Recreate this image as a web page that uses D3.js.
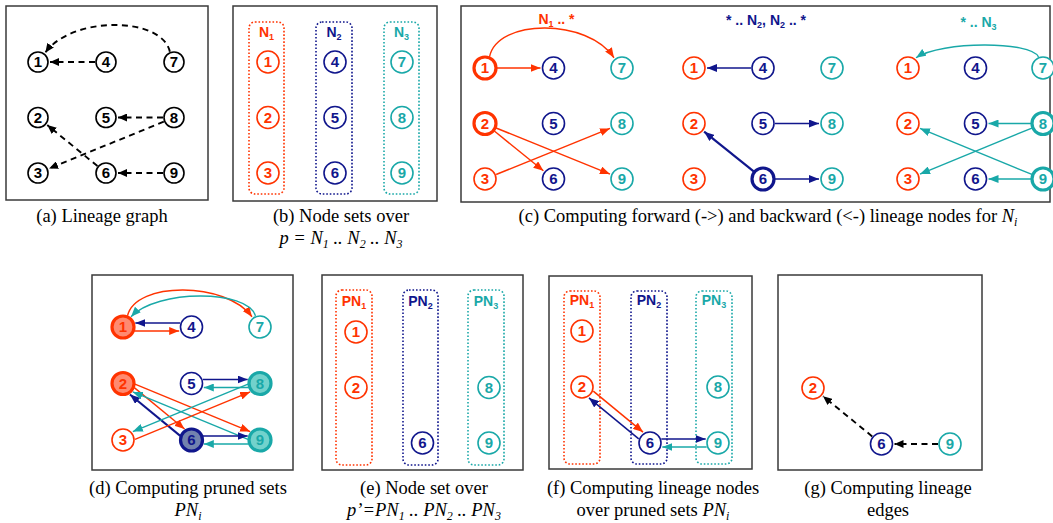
<!DOCTYPE html>
<html><head><meta charset="utf-8">
<script src="https://cdn.jsdelivr.net/npm/d3@7"></script>
<style>body{margin:0;background:#fff} svg{display:block}</style>
</head><body>
<script>
// ---------- data ----------
const nodeIds  = [1,2,3,4,5,6,7,8,9];
const nodeSet  = [0,0,0,1,1,1,2,2,2];   // which N_i each node belongs to
const nodeRow  = [0,1,2,0,1,2,0,1,2];
const setColors = ["#ff3300","#10168c","#19a8a8"];
const setFills  = ["#ff8a70","#7282ae","#72d2cc"];

// (a) lineage graph
const edgesA = [{s:4,t:1},{s:7,t:1,arc:37},{s:8,t:5},{s:8,t:3},{s:6,t:2},{s:9,t:6}];
// (c) forward/backward computations
const edgesC = [
  [{s:1,t:4},{s:1,t:7,arc:40},{s:2,t:6},{s:2,t:9},{s:3,t:8}],
  [{s:4,t:1},{s:6,t:2,w:2.2},{s:5,t:8},{s:6,t:9}],
  [{s:7,t:1,arc:23},{s:8,t:5},{s:8,t:3},{s:9,t:2},{s:9,t:6}]
];
const focusC = [[1,2],[6],[8,9]];
const labelsC = [
  [{t:"N"},{t:"1",sub:1},{t:" .. *"}],
  [{t:"* .. N"},{t:"2",sub:1},{t:", N"},{t:"2",sub:1},{t:" .. *"}],
  [{t:"* .. N"},{t:"3",sub:1}]
];
// (d) pruned sets
const edgesD = [
  {s:1,t:7,g:0,arc:37},{s:7,t:1,g:2,arc:31},
  {s:1,t:4,g:0,lane:1},{s:4,t:1,g:1,lane:-1},
  {s:2,t:6,g:0,lane:-1},{s:6,t:2,g:1,lane:1,w:2},
  {s:2,t:9,g:0,lane:-1},{s:9,t:2,g:2,lane:1},
  {s:3,t:8,g:0,lane:1},{s:8,t:3,g:2,lane:-1},
  {s:5,t:8,g:1,lane:-1},{s:8,t:5,g:2,lane:1},
  {s:6,t:9,g:1,lane:-1},{s:9,t:6,g:2,lane:1}
];
const focusD = [1,2,6,8,9];
// (e),(f) pruned node sets
const prunedNodes = [1,2,6,8,9];
const edgesF = [{s:2,t:6,g:0,lane:-1},{s:6,t:2,g:1,lane:1},{s:6,t:9,g:1,lane:-1},{s:9,t:6,g:2,lane:1}];
// (g) lineage edges
const nodesG = [2,6,9];
const edgesG = [{s:6,t:2},{s:9,t:6}];

const captions = {
  a: [[{t:"(a) Lineage graph"}]],
  b: [[{t:"(b) Node sets over"}],
      [{t:"p",it:1},{t:" = ",it:1},{t:"N",it:1},{t:"1",it:1,sub:1},{t:" .. ",it:1},{t:"N",it:1},{t:"2",it:1,sub:1},{t:" .. ",it:1},{t:"N",it:1},{t:"3",it:1,sub:1}]],
  c: [[{t:"(c) Computing forward (->) and backward (<-) lineage nodes for "},{t:"N",it:1},{t:"i",it:1,sub:1}]],
  d: [[{t:"(d) Computing pruned sets"}],[{t:"PN",it:1},{t:"i",it:1,sub:1}]],
  e: [[{t:"(e) Node set over"}],
      [{t:"p",it:1},{t:"’=PN",it:1},{t:"1",it:1,sub:1},{t:" .. PN",it:1},{t:"2",it:1,sub:1},{t:" .. PN",it:1},{t:"3",it:1,sub:1}]],
  f: [[{t:"(f) Computing lineage nodes"}],[{t:"over pruned sets "},{t:"PN",it:1},{t:"i",it:1,sub:1}]],
  g: [[{t:"(g) Computing lineage"}],[{t:"edges"}]]
};

// ---------- drawing ----------
const W = 1053, H = 523;
const svg = d3.select("body").append("svg").attr("width",W).attr("height",H);
const defs = svg.append("defs");
function mk(id,color,len,wid){
  defs.append("marker").attr("id",id).attr("markerUnits","userSpaceOnUse")
    .attr("viewBox",`0 0 ${len} ${wid}`).attr("refX",len).attr("refY",wid/2)
    .attr("markerWidth",len).attr("markerHeight",wid).attr("orient","auto")
    .append("path").attr("d",`M0,0L${len},${wid/2}L0,${wid}Z`).attr("fill",color);
}
setColors.forEach((c,i)=>mk("m"+i,c,10,8));
mk("mk","#000",9,8);

const SANS = "'Liberation Sans', Arial, sans-serif";
const SERIF = "'Liberation Serif', 'Times New Roman', serif";

function rich(g, x, y, parts, o){
  const txt = g.append("text").attr("x",x).attr("y",y).attr("text-anchor","middle")
    .attr("font-family",o.font).attr("font-size",o.size).attr("font-weight",o.weight||"normal")
    .attr("fill",o.fill||"#000");
  let shifted = false;
  parts.forEach(p=>{
    const ts = txt.append("tspan").text(p.t);
    if (p.it) ts.attr("font-style","italic");
    if (p.sub && !shifted){ ts.attr("dy",o.subDy).attr("font-size",o.subSize); shifted=true; }
    else if (p.sub) ts.attr("font-size",o.subSize);
    else if (!p.sub && shifted){ ts.attr("dy",-o.subDy); shifted=false; }
  });
  return txt;
}

function box(x,y,w,h){
  svg.append("rect").attr("x",x).attr("y",y).attr("width",w).attr("height",h)
    .attr("fill","none").attr("stroke","#3a3a3a").attr("stroke-width",1.5);
}
function caption(key, cx, y0, dy){
  captions[key].forEach((line,i)=>rich(svg, cx, y0+i*dy, line,
    {font:SERIF,size:18.5,subSize:12,subDy:4}));
}
function setBox(x0,x1,y0,y1,color){
  svg.append("rect").attr("x",x0).attr("y",y0).attr("width",x1-x0).attr("height",y1-y0)
    .attr("rx",6).attr("fill","none").attr("stroke",color).attr("stroke-width",1.6)
    .attr("stroke-dasharray","1.6,1.9");
}

function makePos(xs, ys){
  const x = d3.scaleLinear().domain([0,2]).range(xs);
  const y = d3.scaleLinear().domain([0,2]).range(ys);
  return id => ({x:x(nodeSet[id-1]), y:y(nodeRow[id-1])});
}

function drawEdge(layer, pos, e, o){
  const s = pos(e.s), t = pos(e.t), r = o.r;
  const color = o.color, marker = o.marker;
  let path;
  if (e.arc){
    const d = Math.sign(t.x - s.x);
    const a0 = (-90 + d*22)*Math.PI/180, a1 = (-90 - d*38)*Math.PI/180;
    const P0 = {x:s.x + (r+1)*Math.cos(a0), y:s.y + (r+1)*Math.sin(a0)};
    const P3 = {x:t.x + (r+2)*Math.cos(a1), y:t.y + (r+2)*Math.sin(a1)};
    const peak = s.y - e.arc;
    const c = (8*peak - P0.y - P3.y)/6;
    path = `M${P0.x},${P0.y}C${P0.x + d*8},${c} ${P3.x - d*26},${c} ${P3.x},${P3.y}`;
  } else {
    const dx = t.x - s.x, dy = t.y - s.y, L = Math.hypot(dx,dy);
    const ux = dx/L, uy = dy/L;
    let nx = -uy, ny = ux;
    if (ny < 0 || (ny === 0 && nx < 0)) { nx = -nx; ny = -ny; }
    const off = (e.lane||0) * (o.laneOff||4);
    const along = Math.sqrt(Math.max(0,(r+1)*(r+1) - off*off));
    const x0 = s.x + ux*along + nx*off, y0 = s.y + uy*along + ny*off;
    const x1 = t.x - ux*(along+1) + nx*off, y1 = t.y - uy*(along+1) + ny*off;
    path = `M${x0},${y0}L${x1},${y1}`;
  }
  const p = layer.append("path").attr("d",path).attr("fill","none")
    .attr("stroke",color).attr("stroke-width",e.w || o.width)
    .attr("marker-end",`url(#${marker})`);
  if (o.dash) p.attr("stroke-dasharray",o.dash);
}

function drawNodes(layer, pos, ids, o){
  ids.forEach(id=>{
    const p = pos(id), g = nodeSet[id-1];
    const focus = o.focus && o.focus.includes(id);
    const col = o.black ? "#000" : setColors[g];
    layer.append("circle").attr("cx",p.x).attr("cy",p.y).attr("r",o.r)
      .attr("fill", focus && o.fillFocus ? setFills[g] : "#fff")
      .attr("stroke",col).attr("stroke-width", focus ? 3.2 : 1.6);
    layer.append("text").attr("x",p.x).attr("y",p.y+5.3).attr("text-anchor","middle")
      .attr("font-family",SANS).attr("font-weight","bold").attr("font-size",15)
      .attr("fill",col).text(id);
  });
}

// ----- (a) -----
box(6,6,202,194);
{
  const pos = makePos([38,174],[62,173]);
  const L = svg.append("g");
  edgesA.forEach(e=>drawEdge(L,pos,e,{r:10,color:"#000",marker:"mk",width:1.9,dash:"6,4.5"}));
  drawNodes(L,pos,nodeIds,{r:10,black:true});
  caption("a",102,222,22);
}
// ----- (b) -----
box(233,6,204,195);
{
  const pos = makePos([268,402],[62,173]);
  const xs = [[249,284],[316,352],[384,419]];
  xs.forEach((x,i)=>{
    setBox(x[0],x[1],22,194,setColors[i]);
    rich(svg,(x[0]+x[1])/2,37,[{t:"N"},{t:String(i+1),sub:1}],
      {font:SANS,size:14,weight:"bold",subSize:9,subDy:3,fill:setColors[i]});
  });
  drawNodes(svg.append("g"),pos,nodeIds,{r:11});
  caption("b",341,222,22);
}
// ----- (c) -----
box(461,6,589,196);
{
  const groupX = [[485,622],[694,832],[908,1043]];
  const labelY = [24,25,27];
  groupX.forEach((gx,gi)=>{
    const pos = makePos(gx,[68,179]);
    const L = svg.append("g");
    edgesC[gi].forEach(e=>drawEdge(L,pos,e,{r:11,color:setColors[gi],marker:"m"+gi,width:1.4}));
    drawNodes(L,pos,nodeIds,{r:11,focus:focusC[gi]});
    rich(svg,(gx[0]+gx[1])/2 + 3,labelY[gi],labelsC[gi],
      {font:SANS,size:14,weight:"bold",subSize:9,subDy:3,fill:setColors[gi]});
  });
  caption("c",768,222,22);
}
// ----- (d) -----
box(92,275,201,195);
{
  const pos = makePos([123,260],[327,440]);
  const L = svg.append("g");
  edgesD.forEach(e=>drawEdge(L,pos,e,{r:11,color:setColors[e.g],marker:"m"+e.g,width:1.4,laneOff:4}));
  drawNodes(L,pos,nodeIds,{r:11,focus:focusD,fillFocus:true});
  caption("d",188,494,22);
}
// ----- (e) -----
box(322,275,201,195);
{
  const pos = makePos([356,489],[332,443]);
  const xs = [[336,372],[403,438],[468,504]];
  xs.forEach((x,i)=>{
    setBox(x[0],x[1],290,465,setColors[i]);
    rich(svg,(x[0]+x[1])/2,306,[{t:"PN"},{t:String(i+1),sub:1}],
      {font:SANS,size:14,weight:"bold",subSize:9,subDy:3,fill:setColors[i]});
  });
  drawNodes(svg.append("g"),pos,prunedNodes,{r:11});
  caption("e",424,494,22);
}
// ----- (f) -----
box(549,276,203,193);
{
  const pos = makePos([582,718],[331,443]);
  const xs = [[564,600],[631,667],[696,732]];
  xs.forEach((x,i)=>{
    setBox(x[0],x[1],291,464,setColors[i]);
    rich(svg,(x[0]+x[1])/2,305,[{t:"PN"},{t:String(i+1),sub:1}],
      {font:SANS,size:14,weight:"bold",subSize:9,subDy:3,fill:setColors[i]});
  });
  const L = svg.append("g");
  edgesF.forEach(e=>drawEdge(L,pos,e,{r:11,color:setColors[e.g],marker:"m"+e.g,width:1.5,laneOff:4}));
  drawNodes(L,pos,prunedNodes,{r:11});
  caption("f",653,494,22);
}
// ----- (g) -----
box(778,275,204,195);
{
  const pos = makePos([813,950],[332,444]);
  const L = svg.append("g");
  edgesG.forEach(e=>drawEdge(L,pos,e,{r:11,color:"#000",marker:"mk",width:1.9,dash:"6,4.5"}));
  drawNodes(L,pos,nodesG,{r:11});
  caption("g",888,494,22);
}
</script>
</body></html>
